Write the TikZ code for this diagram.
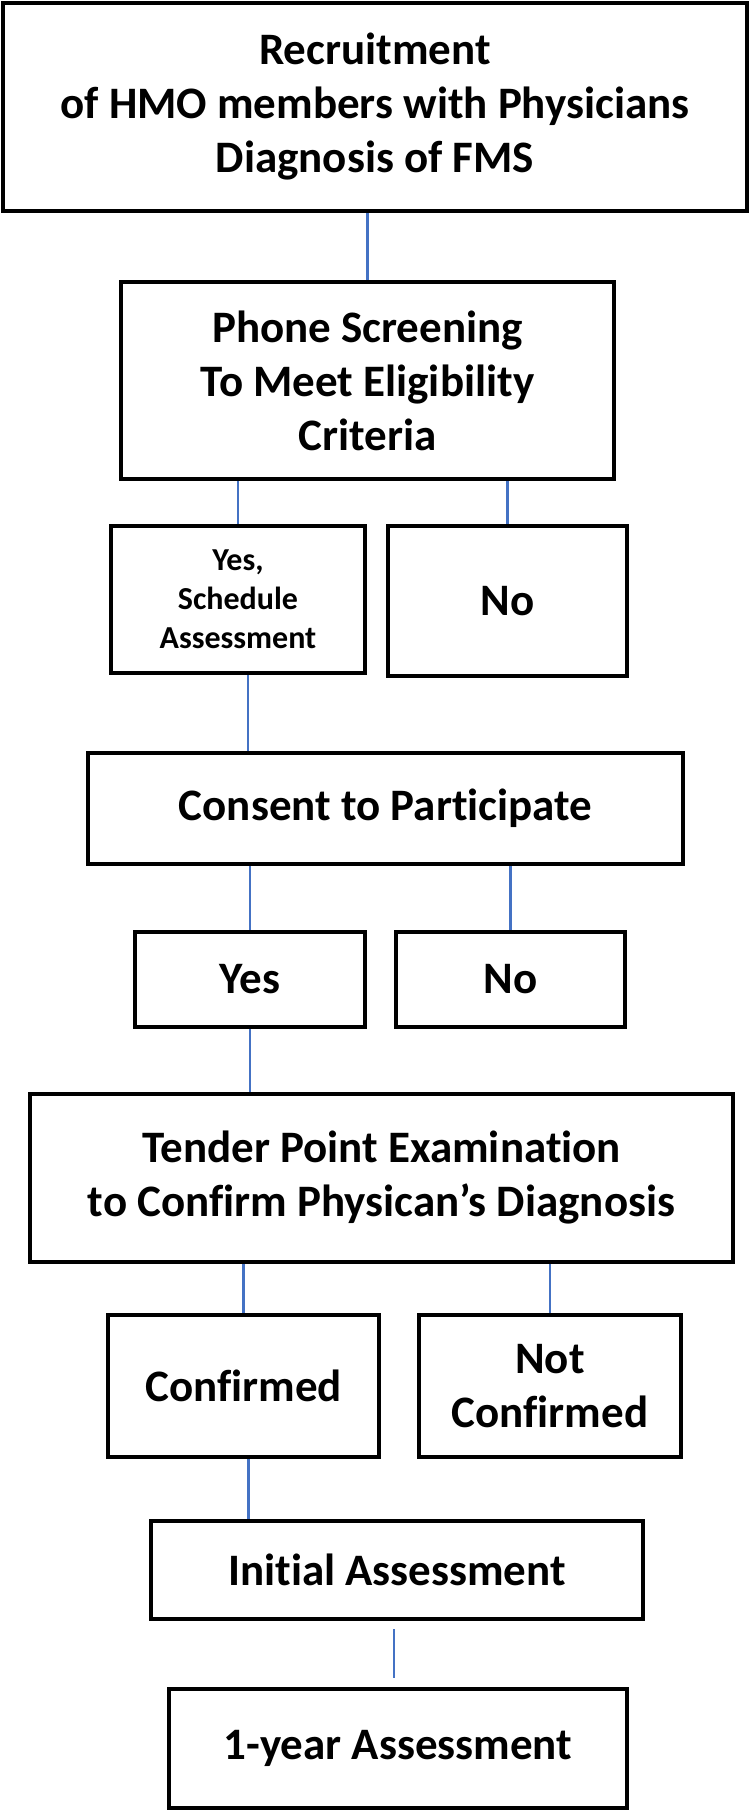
\documentclass[tikz,border=0pt]{standalone}
\usepackage{fontspec}
\setmainfont{Carlito}[Ligatures=NoCommon]
\usepackage{tikz}
\definecolor{linkblue}{HTML}{4472C4}
\tikzset{
  box/.style={draw, line width=4.2pt, align=center, inner sep=0pt, font=\fontsize{45}{54}\selectfont\bfseries},
  small/.style={font=\fontsize{32}{39}\selectfont\bfseries},
  link/.style={draw=linkblue, line width=2.2pt},
}
\begin{document}
\begin{tikzpicture}[x=1pt, y=-1pt]
\useasboundingbox (0,0) rectangle (750,1813);
\node[box, anchor=center, minimum width=744, minimum height=208] (recruit) at (375,107) {Recruitment\\of HMO members with Physicians\\Diagnosis of FMS};
\node[box, anchor=center, minimum width=493, minimum height=197] (phone) at (367.5,380.5) {Phone Screening\\To Meet Eligibility\\Criteria};
\node[box, small, anchor=center, minimum width=254, minimum height=147] (yesA) at (238,599.5) {Yes,\\Schedule\\Assessment};
\node[box, anchor=center, minimum width=239, minimum height=150] (noA) at (507.5,601) {No};
\node[box, anchor=center, minimum width=595, minimum height=111] (consent) at (385.5,808.5) {Consent to Participate};
\node[box, anchor=center, minimum width=230, minimum height=95] (yesB) at (250,979.5) {Yes};
\node[box, anchor=center, minimum width=229, minimum height=95] (noB) at (510.5,979.5) {No};
\node[box, anchor=center, minimum width=703, minimum height=168] (tender) at (381.5,1178) {Tender Point Examination\\to Confirm Physican’s Diagnosis};
\node[box, anchor=center, minimum width=271, minimum height=142] (conf) at (243.5,1386) {Confirmed};
\node[box, anchor=center, minimum width=262, minimum height=142] (notconf) at (550,1386) {Not\\Confirmed};
\node[box, anchor=center, minimum width=492, minimum height=98] (initial) at (397,1570) {Initial Assessment};
\node[box, anchor=center, minimum width=458, minimum height=119] (oneyear) at (398,1748.5) {1-year Assessment};

\draw[link] (phone.north) -- (phone.north |- recruit.south);
\draw[link] (yesA.north) -- (yesA.north |- phone.south);
\draw[link] (noA.north) -- (noA.north |- phone.south);
\draw[link] ([xshift=10pt]yesA.south) -- ([xshift=10pt]yesA.south |- consent.north);
\draw[link] (yesB.north) -- (yesB.north |- consent.south);
\draw[link] (noB.north) -- (noB.north |- consent.south);
\draw[link] (yesB.south) -- (yesB.south |- tender.north);
\draw[link] (conf.north) -- (conf.north |- tender.south);
\draw[link] (notconf.north) -- (notconf.north |- tender.south);
\draw[link] ([xshift=5pt]conf.south) -- ([xshift=5pt]conf.south |- initial.north);
\draw[link] ([xshift=-3pt, yshift=-8pt]initial.south) -- ([xshift=-3pt, yshift=9pt]initial.south |- oneyear.north);
\end{tikzpicture}
\end{document}
